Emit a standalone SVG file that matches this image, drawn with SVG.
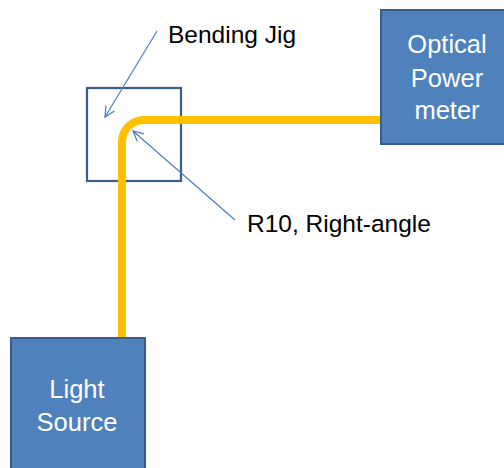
<svg xmlns="http://www.w3.org/2000/svg" width="504" height="468" viewBox="0 0 504 468">
<style>
.box{fill:#4f81bd;stroke:#385d8a;stroke-width:2}
.wt{fill:#fff;font-family:"Liberation Sans",Arial,sans-serif;font-size:25.5px;text-anchor:middle}
.bt{fill:#000;font-family:"Liberation Sans",Arial,sans-serif;font-size:24.5px}
.ptr{stroke:#4a7ebb;stroke-width:1.2;fill:none}
</style>
<defs>
<marker id="open" viewBox="0 0 12 12" refX="11" refY="6" markerWidth="12" markerHeight="12" markerUnits="userSpaceOnUse" orient="auto">
<path d="M1,1 L11,6 L1,11" fill="none" stroke="#4a7ebb" stroke-width="1.2"/>
</marker>
</defs>
<rect width="504" height="468" fill="#fff"/>
<g id="jig">
<rect x="87" y="88" width="94" height="93" fill="none" stroke="#385d8a" stroke-width="2.2"/>
</g>
<g id="fiber">
<path d="M122,338 V142 A22,22 0 0 1 144,120 H381" fill="none" stroke="#ffc000" stroke-width="8"/>
</g>
<g id="meter">
<rect class="box" x="381" y="10" width="130" height="134"/>
<text class="wt" x="447" y="53">Optical</text>
<text class="wt" x="447" y="87">Power</text>
<text class="wt" x="447" y="119">meter</text>
</g>
<g id="source">
<rect class="box" x="11" y="338" width="134" height="140"/>
<text class="wt" x="77" y="398">Light</text>
<text class="wt" x="77" y="431">Source</text>
</g>
<g id="connectors">
<line class="ptr" x1="157" y1="31" x2="105" y2="117" marker-end="url(#open)"/>
<line class="ptr" x1="235" y1="220" x2="133" y2="131" marker-end="url(#open)"/>
</g>
<g id="labels">
<text class="bt" x="168" y="43">Bending Jig</text>
<text class="bt" x="247" y="232">R10, Right-angle</text>
</g>
</svg>
